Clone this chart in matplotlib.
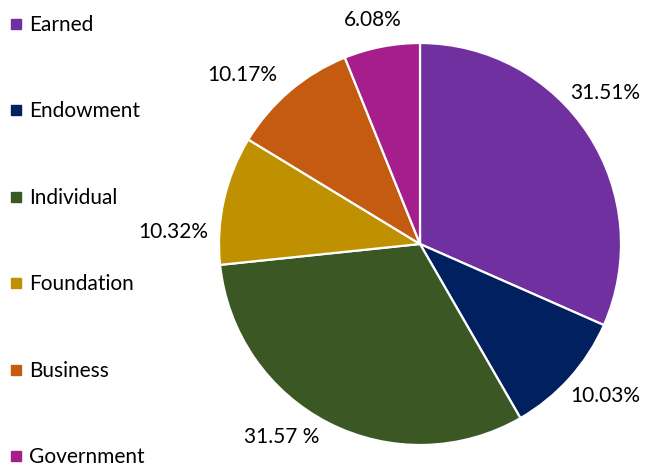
import numpy as np
import matplotlib.pyplot as plt
from matplotlib.lines import Line2D

# funding sources, share of revenue (%)
sources = ['Earned', 'Endowment', 'Individual', 'Foundation', 'Business', 'Government']
shares = [31.51, 10.03, 31.57, 10.32, 10.17, 6.08]
pct_labels = ['31.51%', '10.03%', '31.57 %', '10.32%', '10.17%', '6.08%']
colors = ['#7030A0', '#002060', '#3A5724', '#BF9000', '#C55A11', '#A61E8C']

# where each percent label sits: (angle offset in deg, distance in radii)
label_pos = [(6, 1.19), (2.5, 1.19), (-8.5, 1.18), (10, 1.23), (6, 1.22), (1, 1.14)]

plt.rcParams['font.family'] = ['Lato', 'DejaVu Sans']

fig = plt.figure(figsize=(6.47, 4.66), dpi=100)
W, H = 647, 466
cx, cy, r = 420, 244, 201
ax = fig.add_axes([(cx - r) / W, (H - cy - r) / H, 2 * r / W, 2 * r / H])

wedges, _ = ax.pie(shares, colors=colors, startangle=90, counterclock=False,
                   radius=1, wedgeprops=dict(edgecolor='white', linewidth=1.6))
ax.set_xlim(-1, 1)
ax.set_ylim(-1, 1)
ax.set_aspect('equal')
ax.axis('off')

for w, lab, (off, dist) in zip(wedges, pct_labels, label_pos):
    ang = np.deg2rad((w.theta1 + w.theta2) / 2 + off)
    ax.text(dist * np.cos(ang), dist * np.sin(ang), lab, ha='center', va='center',
            fontsize=15, color='#000000')

handles = [Line2D([], [], marker='s', linestyle='none', markersize=7,
                  markerfacecolor=c, markeredgecolor=c) for c in colors]
fig.legend(handles, sources, loc='upper left', bbox_to_anchor=(-0.009, 1.0),
           frameon=False, fontsize=15, labelspacing=3.19, handlelength=0.7,
           handletextpad=0.25, borderaxespad=0.2, borderpad=0.52)

fig.savefig('out.png', dpi=100)
